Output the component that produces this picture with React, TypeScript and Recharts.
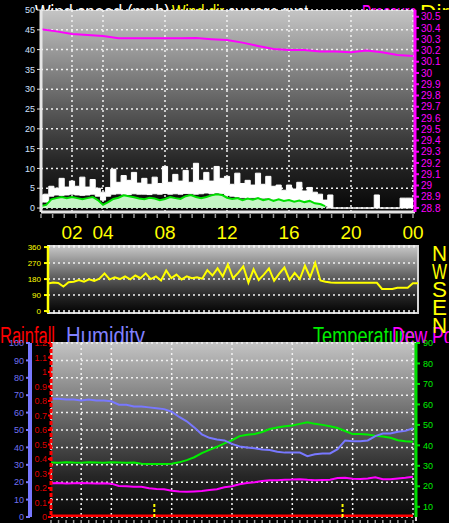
import React from 'react';
import { ComposedChart, LineChart, Line, Area, XAxis, YAxis, CartesianGrid, ReferenceLine } from 'recharts';

const FONT = 'Liberation Sans, Arial, sans-serif';

// ---------- Panel 1: wind speed / gust (mph) and pressure (inHg) ----------
const windTimes = Array.from({ length: 73 }, (_, i) => i / 3);
const gustLow = [1.5, 1.5, 3.0, 3.3, 3.2, 3.3, 3.5, 3.3, 3.2, 3.3, 3.5, 3.0, 2.0, 3.0, 3.5, 3.6, 3.5, 3.4, 3.6, 3.5, 3.5, 3.4, 3.6, 3.5, 3.7, 3.5, 3.6, 3.5, 3.7, 3.6, 3.5, 3.6, 3.8, 3.6, 3.8, 3.7, 3.2, 3.0, 2.8, 2.6, 2.5, 2.6, 2.4, 2.5, 2.5, 2.2, 1.8, 1.8, 1.6, 1.5, 1.5, 1.4, 1.5, 1.3, 1.2, 0.5, 0, 0, 0, 0, 0, 0, 0, 0, 0, 0, 0, 0, 0, 0, 0, 0, 0];
const gustHigh = [3.3, 3.5, 5.5, 5.0, 7.5, 5.3, 6.8, 5.5, 7.8, 5.3, 7.2, 5.0, 4.0, 5.2, 9.8, 6.5, 8.2, 7.0, 9.0, 6.3, 7.5, 6.0, 7.8, 6.2, 10.5, 6.5, 8.5, 6.8, 9.5, 6.5, 11.3, 7.0, 9.0, 6.8, 10.5, 7.5, 8.0, 6.0, 8.8, 6.2, 7.0, 5.8, 8.8, 6.0, 8.0, 5.5, 5.8, 4.5, 5.8, 4.8, 6.5, 4.3, 5.2, 4.0, 3.5, 2.0, 3.3, 0, 0, 0, 0, 0, 0, 0, 0, 3.3, 0, 0, 0, 0, 2.5, 2.5, 2.5];
const windAvg: (number | null)[] = [0.5, 0.8, 2.2, 2.5, 2.8, 2.5, 2.8, 2.5, 2.2, 2.5, 2.8, 2.0, 0.8, 1.5, 2.3, 2.6, 3.2, 3.0, 2.7, 2.4, 2.2, 2.6, 2.4, 2.0, 2.3, 2.8, 2.5, 2.3, 3.0, 3.3, 2.8, 2.5, 2.8, 3.2, 3.5, 3.3, 2.6, 2.3, 2.5, 2.0, 2.4, 2.1, 2.5, 2.0, 2.3, 1.8, 2.2, 1.8, 2.0, 1.6, 1.9, 1.5, 1.8, 1.2, 1.0, 0.5, null, null, null, null, null, null, null, null, null, null, null, null, null, null, null, null, null];
const pressureHours = [0, 1, 2, 3, 4, 5, 6, 7, 8, 9, 10, 11, 12, 13, 14, 15, 16, 17, 18, 19, 20, 21, 22, 23, 24];
const pressure = [30.39, 30.37, 30.347, 30.338, 30.329, 30.308, 30.308, 30.308, 30.308, 30.308, 30.31, 30.3, 30.293, 30.27, 30.24, 30.213, 30.204, 30.204, 30.19, 30.19, 30.184, 30.2, 30.184, 30.16, 30.15];
const windTicks = [0, 5, 10, 15, 20, 25, 30, 35, 40, 45, 50];
const pressureTicks = [28.8, 28.9, 29.0, 29.1, 29.2, 29.3, 29.4, 29.5, 29.6, 29.7, 29.8, 29.9, 30.0, 30.1, 30.2, 30.3, 30.4, 30.5];
const gridHours = [2, 4, 8, 12, 16, 20, 24];
const timeLabels = ['02', '04', '08', '12', '16', '20', '00'];
const minorTicks1 = Array.from({ length: 33 }, (_, i) => i * 0.75);

// ---------- Panel 2: wind direction (deg) ----------
const dirTimes = Array.from({ length: 73 }, (_, i) => i / 3);
const windDir = [155, 160, 158, 138, 162, 165, 175, 165, 178, 170, 182, 212, 178, 190, 180, 195, 178, 200, 185, 212, 180, 195, 172, 228, 185, 205, 178, 195, 185, 190, 182, 230, 200, 240, 195, 262, 185, 215, 252, 160, 235, 175, 205, 240, 170, 210, 245, 175, 215, 180, 255, 190, 270, 172, 165, 160, 159, 159, 159, 159, 159, 159, 159, 159, 159, 124, 124, 124, 131, 131, 131, 157, 157];
const dirTicks = [0, 90, 180, 270, 360];
const compass = ['N', 'W', 'S', 'E', 'N'];

// ---------- Panel 3: rainfall, humidity, temperature, dew point ----------
const halfHours = Array.from({ length: 49 }, (_, i) => i / 2);
const humidity = [68, 68, 67.5, 67.5, 67, 67.5, 67, 67, 66.5, 64.5, 64.5, 63.5, 63.5, 63, 62.5, 62, 60.5, 57.5, 55, 51.5, 47.5, 45.5, 44.5, 44, 42, 40.5, 40, 39.5, 38.8, 38.5, 37.5, 37, 37, 37, 35, 36, 36.5, 36.5, 39, 44, 43.5, 43.5, 44, 46.5, 48, 48, 49, 49.5, 51];
const temperature = [31.6, 31.5, 31.8, 31.6, 31.5, 31.7, 31.6, 31.5, 31.7, 31.6, 31.5, 31.6, 31.0, 30.9, 30.9, 30.9, 31.0, 31.7, 32.8, 34.2, 36.2, 37.8, 39.3, 41, 42.5, 44.5, 45.2, 45.6, 46.5, 48, 48.7, 49.3, 49.7, 50.5, 51.3, 50.5, 50, 49.3, 48.5, 47, 45.5, 45.5, 45.3, 44.7, 44.3, 43.7, 42.5, 42, 41.8];
const dewPoint = [21.5, 21.6, 21.4, 21.5, 21.6, 21.5, 21.4, 21.5, 21.3, 20.2, 20, 19.8, 19.8, 19, 18.7, 18.5, 17.8, 17.4, 17.3, 17.5, 17.7, 18.2, 18.6, 19.5, 20, 21, 21.6, 22, 22.6, 23, 23, 23.2, 23.3, 23.5, 23.2, 23, 23.1, 23.2, 24, 24.2, 23.7, 23.6, 23.8, 24.4, 23.5, 23.4, 23.8, 24.2, 24.7];
const rainHours = [0, 1, 2, 3, 4, 5, 6, 7, 8, 9, 10, 11, 12, 13, 14, 15, 16, 17, 18, 19, 20, 21, 22, 23, 24];
const rainfall = [0, 0, 0, 0, 0, 0, 0, 0, 0, 0, 0, 0, 0, 0, 0, 0, 0, 0, 0, 0, 0, 0, 0, 0, 0];
const markerHours = [6.85, 19.33];
const rainTicks = [0, 0.1, 0.2, 0.3, 0.4, 0.5, 0.6, 0.7, 0.8, 0.9, 1.0, 1.1, 1.2];
const humTicks = [0, 10, 20, 30, 40, 50, 60, 70, 80, 90, 100];
const tempTicks = [10, 20, 30, 40, 50, 60, 70, 80, 90];

const fmt1 = (v: number) => String(Number(v.toFixed(1)));

const grad = 'linear-gradient(to bottom, #c4c4c4 0%, #8e8e8e 25%, #575757 50%, #262626 75%, #050505 100%)';

function timeTick(props: any) {
  const { x, y, payload } = props;
  const v = payload.value;
  const idx = gridHours.indexOf(v);
  const isMinor = minorTicks1.includes(v);
  return (
    <g>
      {isMinor && <line x1={x} x2={x} y1={y + 2} y2={y + 6} stroke="#9a9a9a" strokeWidth={1.5} />}
      {idx >= 0 && (
        <text x={x} y={y + 27} textAnchor="middle" fill="#ffff00" fontSize={19} fontFamily={FONT}>
          {timeLabels[idx]}
        </text>
      )}
    </g>
  );
}

function minorTick3(props: any) {
  const { x, y } = props;
  return <line x1={x} x2={x} y1={y + 3} y2={y + 6} stroke="#9a9a9a" strokeWidth={1.5} />;
}

export default function App() {
  const rows1 = windTimes.map((h, i) => ({ h, gust: [gustLow[i], gustHigh[i]], avg: windAvg[i] }));
  const pRows = pressureHours.map((h, i) => ({ h, p: pressure[i] }));
  const ticks1 = Array.from(new Set([...minorTicks1, ...gridHours])).sort((a, b) => a - b);
  const rows2 = dirTimes.map((h, i) => ({ h, d: windDir[i] }));
  const rows3 = halfHours.map((h, i) => ({ h, hum: humidity[i], temp: temperature[i], dew: dewPoint[i] }));
  const rainRows = rainHours.map((h, i) => ({ h, r: rainfall[i] }));

  return (
    <div style={{ position: 'fixed', left: 0, top: 0, width: 449, height: 523, background: '#000', overflow: 'hidden', fontFamily: FONT }}>
      {/* top title strip (clipped) */}
      <div style={{ position: 'absolute', left: 0, top: 0, width: 449, height: 10, overflow: 'hidden' }}>
        <svg width={449} height={30} style={{ position: 'absolute', left: 0, top: 0 }}>
          <text x={35} y={20} fill="#ffffff" fontSize={22} fontFamily={FONT} textLength={135} lengthAdjust="spacingAndGlyphs">Wind speed (mph)</text>
          <text x={172} y={20} fill="#ffff00" fontSize={22} fontFamily={FONT} textLength={52} lengthAdjust="spacingAndGlyphs">Wind dir</text>
          <text x={228} y={20} fill="#ffffff" fontSize={22} fontFamily={FONT} textLength={80} lengthAdjust="spacingAndGlyphs">average gust</text>
          <text x={362} y={20} fill="#ff00ff" fontSize={22} fontFamily={FONT} textLength={55} lengthAdjust="spacingAndGlyphs">Pressure</text>
          <text x={420} y={20} fill="#ffff00" fontSize={22} fontFamily={FONT} textLength={29} lengthAdjust="spacingAndGlyphs">Dir</text>
        </svg>
      </div>

      {/* bottom panel titles (clipped at plot top) */}
      <div style={{ position: 'absolute', left: 0, top: 322, width: 449, height: 21, overflow: 'hidden' }}>
        <svg width={449} height={30} style={{ position: 'absolute', left: 0, top: 0 }}>
          <text x={0} y={22} fill="#ff0000" fontSize={23} fontFamily={FONT} textLength={55} lengthAdjust="spacingAndGlyphs">Rainfall</text>
          <text x={66} y={22} fill="#8080ff" fontSize={23} fontFamily={FONT} textLength={79} lengthAdjust="spacingAndGlyphs">Humidity</text>
          <text x={313} y={22} fill="#00ee00" fontSize={23} fontFamily={FONT} textLength={102} lengthAdjust="spacingAndGlyphs">Temperature</text>
          <text x={392} y={22} fill="#ff00ff" fontSize={23} fontFamily={FONT} textLength={80} lengthAdjust="spacingAndGlyphs">Dew Point</text>
        </svg>
      </div>

      {/* compass letters */}
      <svg width={21} height={100} style={{ position: 'absolute', left: 428, top: 240 }}>
        {compass.map((c, i) => (
          <text key={i} x={4} y={21 + i * 18} fill="#ffff00" fontSize={22} fontFamily={FONT} textLength={15} lengthAdjust="spacingAndGlyphs">{c}</text>
        ))}
      </svg>

      {/* plot backgrounds */}
      <div style={{ position: 'absolute', left: 41, top: 10, width: 374, height: 202, background: grad, borderTop: '1px solid #d8d8d8', boxSizing: 'border-box' }} />
      <div style={{ position: 'absolute', left: 47, top: 245, width: 372, height: 69, background: grad, border: '2px solid #d4d4d4', boxSizing: 'border-box' }} />
      <div style={{ position: 'absolute', left: 51, top: 342, width: 366, height: 179, background: grad, borderRight: '2px solid #d4d4d4', boxSizing: 'border-box' }} />

      {/* Panel 1 */}
      <div style={{ position: 'absolute', left: 0, top: 0 }}>
        <ComposedChart width={449} height={242} data={rows1} margin={{ top: 10, right: 0, bottom: 0, left: 0 }}>
          <XAxis xAxisId="g" dataKey="h" type="number" domain={[0, 24.13]} ticks={gridHours} hide allowDataOverflow />
          <XAxis dataKey="h" type="number" domain={[0, 24.13]} ticks={ticks1} interval={0} height={30} tickSize={0} tickMargin={0} tickLine={false} axisLine={{ stroke: '#e4e4e4', strokeWidth: 3 }} tick={timeTick} allowDataOverflow />
          <YAxis yAxisId="w" type="number" domain={[-1, 50]} ticks={windTicks} interval={0} width={41} tickSize={4} tickMargin={2} axisLine={{ stroke: '#e6e6e6', strokeWidth: 3 }} tickLine={{ stroke: '#e6e6e6' }} tick={{ fill: '#cfe0ff', fontSize: 9 }} allowDataOverflow />
          <YAxis yAxisId="p" orientation="right" type="number" domain={[28.764, 30.56]} ticks={pressureTicks} interval={0} width={34} tickSize={4} tickMargin={2} tickFormatter={fmt1} axisLine={{ stroke: '#ff00ff', strokeWidth: 3 }} tickLine={{ stroke: '#ff00ff', strokeWidth: 2 }} tick={{ fill: '#ff00ff', fontSize: 10 }} allowDataOverflow />
          <CartesianGrid xAxisId="g" yAxisId="w" stroke="#f2f2f2" strokeDasharray="2 3" strokeWidth={1.5} />
          <Area yAxisId="w" dataKey="gust" type="step" stroke="#ffffff" strokeWidth={1} fill="#ffffff" fillOpacity={1} isAnimationActive={false} />
          <Area yAxisId="w" dataKey="avg" type="linear" stroke="#00e000" strokeWidth={2} fill="#c6f5c6" fillOpacity={1} isAnimationActive={false} />
          <Line yAxisId="p" data={pRows} dataKey="p" type="linear" stroke="#ff00ff" strokeWidth={2} dot={false} isAnimationActive={false} />
        </ComposedChart>
      </div>

      {/* Panel 2 */}
      <div style={{ position: 'absolute', left: 0, top: 236 }}>
        <LineChart width={449} height={82} data={rows2} margin={{ top: 10, right: 31, bottom: 5, left: 0 }}>
          <XAxis dataKey="h" type="number" domain={[0, 24]} hide />
          <YAxis type="number" domain={[-11, 366]} ticks={dirTicks} interval={0} width={48} tickSize={4} tickMargin={3} axisLine={{ stroke: '#ffff00', strokeWidth: 2.5 }} tickLine={{ stroke: '#ffff00', strokeWidth: 2 }} tick={{ fill: '#ffff00', fontSize: 8 }} allowDataOverflow />
          <CartesianGrid vertical={false} stroke="#f2f2f2" strokeDasharray="2 3" strokeWidth={1.5} />
          <Line dataKey="d" type="linear" stroke="#ffff00" strokeWidth={2} dot={false} isAnimationActive={false} />
        </LineChart>
      </div>

      {/* Panel 3 */}
      <div style={{ position: 'absolute', left: 0, top: 333 }}>
        <ComposedChart width={449} height={190} data={rows3} margin={{ top: 10, right: 0, bottom: 0, left: 0 }}>
          <XAxis xAxisId="g" dataKey="h" type="number" domain={[0, 24.2]} ticks={gridHours} hide allowDataOverflow />
          <XAxis dataKey="h" type="number" domain={[0, 24.2]} ticks={halfHours} interval={0} height={6} tickSize={0} tickMargin={0} tickLine={false} axisLine={false} tick={minorTick3} allowDataOverflow />
          <YAxis yAxisId="a_rain" type="number" domain={[0, 1.2]} ticks={rainTicks} interval={0} width={21} tickSize={3} tickMargin={1} tickFormatter={fmt1} axisLine={{ stroke: '#ff0000', strokeWidth: 3, strokeDasharray: '4 2' }} tickLine={{ stroke: '#ff0000', strokeWidth: 2 }} tick={{ fill: '#dd0000', fontSize: 9 }} allowDataOverflow />
          <YAxis yAxisId="b_hum" type="number" domain={[0, 100]} ticks={humTicks} interval={0} width={30} tickSize={4} tickMargin={2} axisLine={{ stroke: '#7878ff', strokeWidth: 4 }} tickLine={{ stroke: '#7878ff', strokeWidth: 2 }} tick={{ fill: '#7070f0', fontSize: 9 }} allowDataOverflow />
          <YAxis yAxisId="temp" orientation="right" type="number" domain={[5, 90]} ticks={tempTicks} interval={0} width={33} tickSize={4} tickMargin={3} axisLine={{ stroke: '#00dd00', strokeWidth: 3 }} tickLine={{ stroke: '#00dd00', strokeWidth: 2 }} tick={{ fill: '#00ee00', fontSize: 9 }} allowDataOverflow />
          <CartesianGrid xAxisId="g" yAxisId="b_hum" stroke="#f2f2f2" strokeDasharray="2 3" strokeWidth={1.5} />
          <Line yAxisId="temp" dataKey="temp" type="linear" stroke="#00ee00" strokeWidth={2} dot={false} isAnimationActive={false} />
          <Line yAxisId="temp" dataKey="dew" type="linear" stroke="#ff00ff" strokeWidth={2} dot={false} isAnimationActive={false} />
          <Line yAxisId="b_hum" dataKey="hum" type="linear" stroke="#7878ff" strokeWidth={2} dot={false} isAnimationActive={false} />
          <Line yAxisId="a_rain" data={rainRows} dataKey="r" type="linear" stroke="#ff0000" strokeWidth={5} dot={false} isAnimationActive={false} />
          {markerHours.map((h) => (
            <ReferenceLine key={h} yAxisId="a_rain" segment={[{ x: h, y: 0 }, { x: h, y: 0.1 }]} stroke="#ffff00" strokeWidth={2} strokeDasharray="3 2" ifOverflow="visible" />
          ))}
        </ComposedChart>
      </div>
    </div>
  );
}
